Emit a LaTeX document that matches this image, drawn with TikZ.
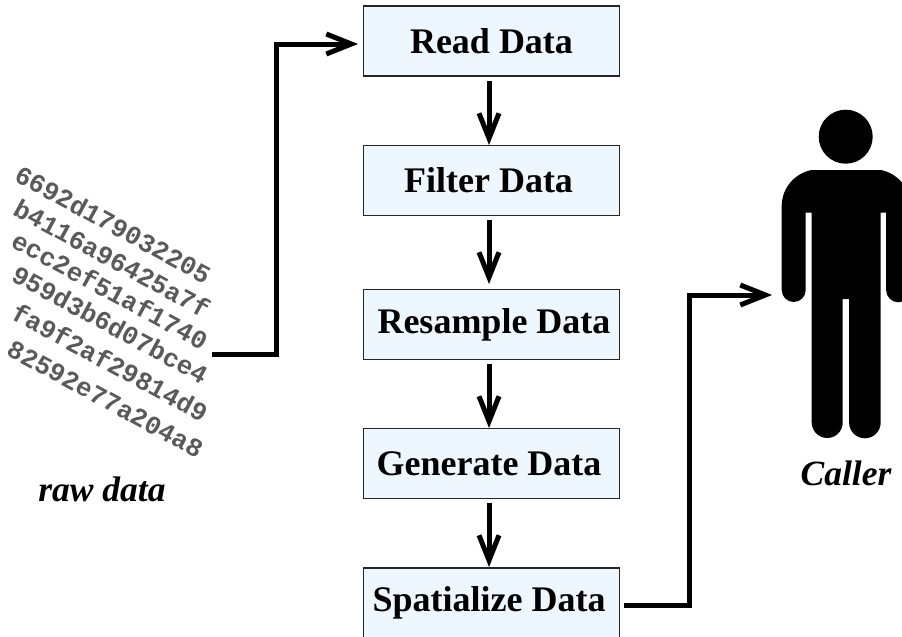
\documentclass[tikz,border=0pt]{standalone}
\usepackage{fontspec}
\setmainfont{Liberation Serif}
\setmonofont{Liberation Mono}
\usetikzlibrary{arrows.meta}
\definecolor{boxfill}{HTML}{EEF6FE}
\definecolor{rawgrey}{HTML}{5A5A5A}
\tikzset{
  x=1pt,y=-1pt,
  stagebox/.style={draw=black!85,line width=1.1pt,fill=boxfill,minimum width=256pt,minimum height=70pt,inner sep=0pt,font=\fontsize{36}{38}\selectfont\bfseries},
  flow/.style={line width=5pt,-{Straight Barb[length=25pt,width=20pt,line width=5pt]}},
  hexline/.style={rotate=-28.5,anchor=west,text=rawgrey,inner sep=0pt,font=\fontsize{26}{27}\selectfont\ttfamily\bfseries},
  caption/.style={inner sep=0pt,font=\fontsize{35.5}{38}\selectfont\bfseries\itshape},
}
\begin{document}
\begin{tikzpicture}
\useasboundingbox (0,0) rectangle (902,637);
\node[stagebox] (read) at (491.5,41) {Read Data};
\node[stagebox] (filter) at (491.5,180.5) {Filter Data\kern6pt};
\node[stagebox] (resample) at (491.5,324.5) {\kern5pt Resample Data};
\node[stagebox] (generate) at (491.5,463.7) {Generate Data\kern5pt};
\node[stagebox] (spatialize) at (491.5,603) {Spatialize Data\kern5pt};
\coordinate (a1s) at (489,81);  \coordinate (a1e) at (489,145);
\coordinate (a2s) at (489,220); \coordinate (a2e) at (489,284);
\coordinate (a3s) at (489,364); \coordinate (a3e) at (489,428);
\coordinate (a4s) at (489,503); \coordinate (a4e) at (489,567);
\node[hexline] at (17,172) {6692d179032205};
\node[hexline] at (16,206) {b4116a96425a7f};
\node[hexline] at (14,238) {ecc2ef51af1740};
\node[hexline] at (14,272) {959d3b6d07bce4};
\node[hexline] at (14,310) {fa9f2af29814d9};
\node[hexline] at (9,347) {82592e77a204a8};
\coordinate (rawend) at (212,354);
\coordinate (readin) at (358,44);
\node[caption] (raw) at (102,489) {raw data};
\node[caption] (caller) at (846,473) {Caller};
\begin{scope}
\clip (0,0) rectangle (902,637);
\fill (845.7,136.7) circle (27);
\fill (811.7,170) -- (880.7,170) .. controls (897,173) and (910.7,188) .. (910.7,206) -- (910.7,290) arc[start angle=0,end angle=180,radius=12.3] -- (886,212.7) -- (880.7,212.7) -- (880.7,422.5)
  arc[start angle=0,end angle=180,radius=15.8] -- (849,299) -- (842.7,299) -- (842.7,422.5) arc[start angle=0,end angle=180,radius=15.5] -- (811.7,212.7) -- (805.7,212.7) -- (805.7,290) arc[start angle=0,end angle=180,radius=12] -- (781.7,206) .. controls (781.7,188) and (795,173) .. (811.7,170) -- cycle;
\end{scope}
\draw[flow] (rawend) -- (276,354) -- (276,44) -- (readin);
\draw[flow] (a1s) -- (a1e);
\draw[flow] (a2s) -- (a2e);
\draw[flow] (a3s) -- (a3e);
\draw[flow] (a4s) -- (a4e);
\coordinate (spatout) at (624,605);
\coordinate (callerin) at (772,295);
\draw[flow] (spatout) -- (689.5,605) -- (689.5,295) -- (callerin);
\end{tikzpicture}
\end{document}
